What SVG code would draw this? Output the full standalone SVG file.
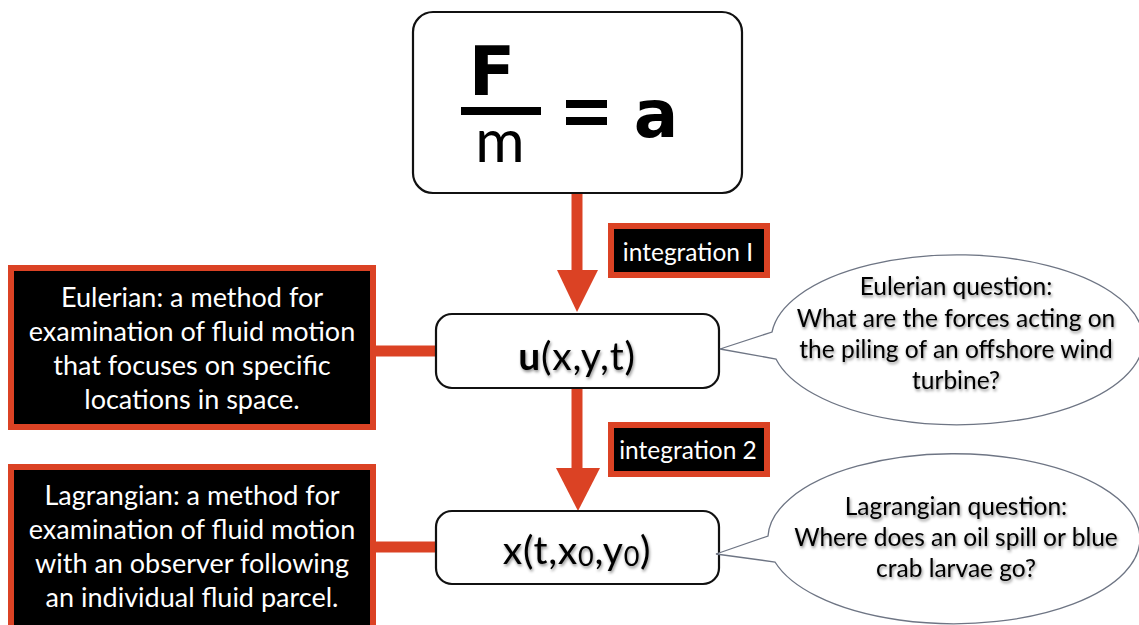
<svg xmlns="http://www.w3.org/2000/svg" width="1139" height="625" viewBox="0 0 1139 625">
<defs>
<style>
.box{fill:#fff;stroke:#111;stroke-width:2.2}
.def{fill:#000;stroke:#DB4224;stroke-width:6}
.conn{stroke:#DB4224;stroke-width:11;fill:none}
.head{fill:#DB4224}
.bubble{fill:#fff;stroke:#6E7584;stroke-width:1.3}
.wt{font-family:Lato,"Open Sans",sans-serif;fill:#fff;text-anchor:middle}
.bt{font-family:Lato,"Open Sans",sans-serif;fill:#000;text-anchor:middle}
.sh{filter:url(#ds)}
</style>
<filter id="ds" x="-10%" y="-30%" width="120%" height="160%">
<feDropShadow dx="1" dy="2" stdDeviation="1.5" flood-color="#000" flood-opacity="0.45"/>
</filter>
</defs>

<g id="connectors">
<line class="conn" x1="577" y1="193" x2="577" y2="272"/>
<polygon class="head" points="557,270 598,270 577,312"/>
<line class="conn" x1="577" y1="388" x2="577" y2="470"/>
<polygon class="head" points="556,468 600,468 578,511"/>
<line class="conn" x1="376" y1="351" x2="437" y2="351"/>
<line class="conn" x1="376" y1="547" x2="437" y2="547"/>
</g>

<g id="node-newton">
<rect class="box" x="413" y="12" width="329" height="181" rx="20"/>
<text x="492" y="95" font-family="'DejaVu Sans',sans-serif" font-weight="bold" font-size="68" text-anchor="middle">F</text>
<rect x="461" y="107" width="80" height="8" fill="#000"/>
<text x="500" y="162" font-family="Lato,sans-serif" font-size="60" text-anchor="middle">m</text>
<rect x="566" y="100" width="41" height="8" fill="#000"/>
<rect x="566" y="117" width="41" height="8" fill="#000"/>
<text x="656" y="137" font-family="'DejaVu Sans',sans-serif" font-weight="bold" font-size="66" text-anchor="middle">a</text>
</g>

<g id="node-label1">
<rect class="def" x="611" y="226" width="156" height="49"/>
<text class="wt" x="688" y="261" font-size="24.5">integration I</text>
</g>

<g id="node-u">
<rect class="box" x="436" y="314" width="283" height="74" rx="16"/>
<text class="bt sh" x="577" y="370" font-size="39" letter-spacing="0.8"><tspan font-weight="bold">u</tspan>(x,y,t)</text>
</g>

<g id="node-label2">
<rect class="def" x="611" y="425" width="156" height="49"/>
<text class="wt" x="688" y="459" font-size="24.5">integration 2</text>
</g>

<g id="node-x">
<rect class="box" x="436" y="511" width="283" height="73" rx="16"/>
<text class="bt sh" x="577" y="564" font-size="39" letter-spacing="0.8">x(t,x<tspan font-size="27" dy="2">0</tspan><tspan dy="-2">,y</tspan><tspan font-size="27" dy="2">0</tspan><tspan dy="-2">)</tspan></text>
</g>

<g id="node-eulerian">
<rect class="def" x="11" y="268" width="362" height="159"/>
<text class="wt" font-size="27"><tspan x="192" y="307">Eulerian: a method for</tspan><tspan x="192" y="341">examination of fluid motion</tspan><tspan x="192" y="375">that focuses on specific</tspan><tspan x="192" y="409">locations in space.</tspan></text>
</g>

<g id="node-lagrangian">
<rect class="def" x="11" y="467" width="362" height="162"/>
<text class="wt" font-size="27"><tspan x="192" y="505">Lagrangian: a method for</tspan><tspan x="192" y="539">examination of fluid motion</tspan><tspan x="192" y="573">with an observer following</tspan><tspan x="192" y="607">an individual fluid parcel.</tspan></text>
</g>

<g id="node-euler-question">
<path class="bubble" d="M772,332 A186,85 0 1,1 776,359 L720,349 Z"/>
<text class="bt sh" font-size="24.5"><tspan x="956" y="295">Eulerian question:</tspan><tspan x="956" y="327">What are the forces acting on</tspan><tspan x="956" y="358">the piling of an offshore wind</tspan><tspan x="956" y="389">turbine?</tspan></text>
</g>

<g id="node-lagrange-question">
<path class="bubble" d="M768,536 A186,85 0 1,1 775,562 L716,554 Z"/>
<text class="bt sh" font-size="24.5"><tspan x="956" y="515">Lagrangian question:</tspan><tspan x="956" y="546">Where does an oil spill or blue</tspan><tspan x="956" y="577">crab larvae go?</tspan></text>
</g>
</svg>
